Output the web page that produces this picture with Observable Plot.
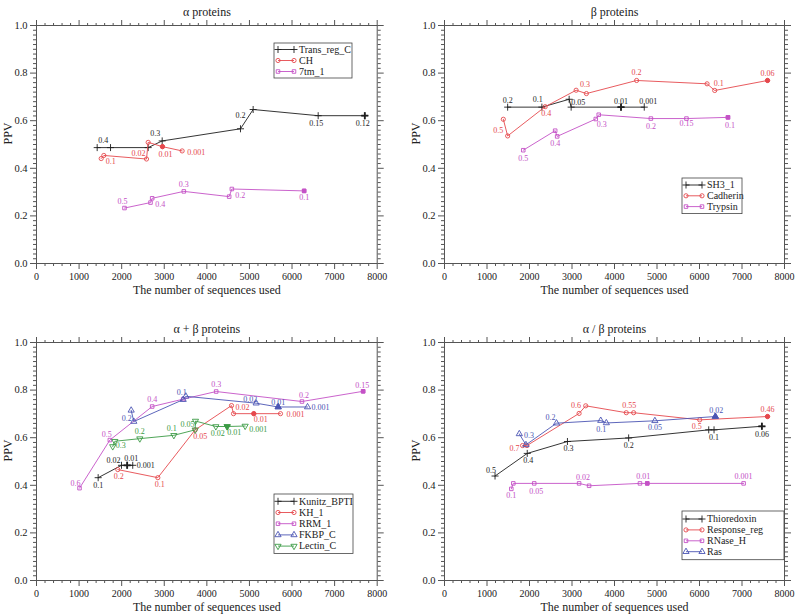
<!DOCTYPE html>
<html><head><meta charset="utf-8">
<script src="https://cdn.jsdelivr.net/npm/d3@7"></script>
<script src="https://cdn.jsdelivr.net/npm/@observablehq/plot@0.6"></script>
<style>
body{margin:0;background:#fff}
#wrap{position:relative;width:795px;height:615px;overflow:hidden;background:#fff}
.p{position:absolute}
#wrap svg, #wrap svg text{font-family:"Liberation Serif","DejaVu Serif","Times New Roman",serif !important}
</style>
</head><body><div id="wrap"></div>
<script>
// ---------------- DATA ----------------
const xTicks = [0, 1000, 2000, 3000, 4000, 5000, 6000, 7000, 8000];
const yTicks = [0, 0.2, 0.4, 0.6, 0.8, 1.0];
const panelTitles = ["α proteins", "β proteins", "α + β proteins", "α / β proteins"];
const xTitle = "The number of sequences used";
const yTitle = "PPV";

// α proteins
const transRegC_n   = [1425, 1738, 2622, 2951, 4790, 5087, 6614, 7709];
const transRegC_ppv = [0.487, 0.487, 0.487, 0.515, 0.566, 0.647, 0.621, 0.621];
const transRegC_thr = ["0.4", "", "", "0.3", "0.2", "", "0.15", "0.12"];
const ch_n   = [1519, 1581, 2583, 2622, 2958, 3420];
const ch_ppv = [0.441, 0.454, 0.439, 0.509, 0.491, 0.473];
const ch_thr = ["", "0.1", "0.02", "", "0.01", "0.001"];
const tm7_n   = [2066, 2677, 2716, 3459, 4524, 4587, 6285];
const tm7_ppv = [0.233, 0.256, 0.274, 0.303, 0.281, 0.313, 0.305];
const tm7_thr = ["0.5", "", "0.4", "0.3", "0.2", "", "0.1"];

// β proteins
const sh3_n   = [1486, 2291, 2933, 2980, 4153, 4700];
const sh3_ppv = [0.657, 0.657, 0.690, 0.657, 0.657, 0.657];
const sh3_thr = ["0.2", "0.1", "", "0.05", "0.01", "0.001"];
const cadherin_n   = [1384, 1486, 2370, 3097, 3339, 4520, 6178, 6358, 7601];
const cadherin_ppv = [0.606, 0.536, 0.659, 0.728, 0.714, 0.769, 0.755, 0.727, 0.769];
const cadherin_thr = ["0.5", "", "0.4", "0.3", "", "0.2", "", "0.1", "0.06"];
const trypsin_n   = [1853, 2604, 2651, 3559, 3629, 4856, 5693, 6670];
const trypsin_ppv = [0.476, 0.558, 0.534, 0.607, 0.625, 0.609, 0.609, 0.614];
const trypsin_thr = ["0.5", "", "0.4", "", "0.3", "0.2", "0.15", "0.1"];

// α + β proteins
const kunitz_n   = [1448, 1996, 2129, 2260];
const kunitz_ppv = [0.432, 0.484, 0.484, 0.484];
const kunitz_thr = ["0.1", "0.02", "0.01", "0.001"];
const kh1_n   = [1909, 2849, 3726, 4579, 4626, 5103, 5729];
const kh1_ppv = [0.466, 0.432, 0.633, 0.735, 0.701, 0.701, 0.701];
const kh1_thr = ["0.2", "0.1", "0.05", "0.02", "", "0.01", "0.001"];
const rrm1_n   = [1010, 1722, 2716, 3444, 4219, 6233, 7670];
const rrm1_ppv = [0.388, 0.590, 0.731, 0.762, 0.794, 0.752, 0.795];
const rrm1_thr = ["0.6", "0.5", "0.4", "", "0.3", "0.2", "0.15"];
const fkbp_n   = [2223, 2285, 3444, 3506, 5158, 5675, 6364];
const fkbp_ppv = [0.715, 0.668, 0.760, 0.774, 0.745, 0.729, 0.729];
const fkbp_thr = ["", "0.2", "", "0.1", "0.02", "0.01", "0.001"];
const lectin_n   = [1790, 1840, 2426, 3225, 3726, 3733, 4211, 4477, 4899];
const lectin_ppv = [0.563, 0.585, 0.596, 0.610, 0.633, 0.670, 0.647, 0.647, 0.649];
const lectin_thr = ["0.3", "", "0.2", "0.1", "", "0.05", "0.02", "0.01", "0.001"];

// α / β proteins
const thio_n   = [1189, 1947, 2893, 4333, 6217, 6342, 7468];
const thio_ppv = [0.439, 0.534, 0.584, 0.599, 0.633, 0.633, 0.648];
const thio_thr = ["0.5", "0.4", "0.3", "0.2", "", "0.1", "0.06"];
const resp_n   = [1837, 1940, 3167, 3323, 4277, 4450, 6006, 7601];
const resp_ppv = [0.567, 0.567, 0.702, 0.734, 0.705, 0.705, 0.675, 0.689];
const resp_thr = ["0.7", "", "0.6", "", "0.55", "", "0.5", "0.46"];
const rnase_n   = [1572, 1619, 2111, 3167, 3402, 4599, 4771, 7038];
const rnase_ppv = [0.385, 0.408, 0.408, 0.408, 0.398, 0.408, 0.408, 0.408];
const rnase_thr = ["0.1", "", "0.05", "0.02", "", "", "0.01", "0.001"];
const ras_n   = [1760, 1916, 2635, 3676, 3808, 4950, 6373];
const ras_ppv = [0.616, 0.570, 0.661, 0.672, 0.662, 0.671, 0.689];
const ras_thr = ["", "0.3", "0.2", "", "0.1", "0.05", "0.02"];

// chosen (filled) threshold of each family
const chosenAlpha = ["0.12", "0.01", "0.1"];
const chosenBeta = ["0.01", "0.06", "0.1"];
const chosenAB = ["0.01", "0.01", "0.15", "0.01", "0.01"];
const chosenAoB = ["0.06", "0.46", "0.01", "0.02"];

// ---------------- STYLE ----------------
const FONT = "'Liberation Serif','DejaVu Serif','Times New Roman',serif";
const AXIS = "#555", TXT = "#222";
const BLACK = "#1e1e1e", RED = "#e5484d", MAG = "#c451c6", BLUE = "#4b55b3", GREEN = "#3b9b45";
const triDown = {draw(ctx, size) {
  const y = Math.sqrt(size / (Math.sqrt(3) * 3)), s3 = Math.sqrt(3);
  ctx.moveTo(0, 2 * y); ctx.lineTo(-s3 * y, -y); ctx.lineTo(s3 * y, -y); ctx.closePath();
}};
const SYM = {plus: d3.symbolPlus, circle: d3.symbolCircle, square: d3.symbolSquare, tri: d3.symbolTriangle, triDown};
const RAD = {plus: 2.4, circle: 2.1, square: 2.0, tri: 2.3, triDown: 2.3};

// label offsets (pixels) per point
const place = {
  transRegC: [[6,-7],null,null,[-7,-7],[0,-13],null,[-2,8],[-2,8]],
  ch: [null,[7,6],[-8,-6],null,[3,8],[14,2]],
  tm7: [[-2,-7],null,[8,6],[0,-7],[11,-1],null,[0,7]],
  sh3: [[0,-7],[-4,-8],null,[7,-5],[0,-6],[4,-6]],
  cadherin: [[-5,11],null,[1,7],[9,-6],null,[0,-8],null,[4,-7],[0,-7]],
  trypsin: [[0,8],null,[-2,7],null,[3,10],[0,8],[0,5],[2,8]],
  kunitz: [[0,8],[-8,-5],[4,-7],[13,0]],
  kh1: [[1,7],[2,7],[5,7],[11,2],null,[7,6],[15,1]],
  rrm1: [[-4,-5],[-3,-6],[0,-7],null,[0,-7],[2,-6],[-1,-6]],
  fkbp: [null,[-7,-3],null,[-4,-4],[-6,-4],[0,-5],[13,0]],
  lectin: [[8,-1],null,[0,-7],[-2,-7],null,[-8,3],[2,7],[7,6],[13,3]],
  thio: [[-4,-6],[1,7],[1,7],[0,7],null,[0,8],[0,8]],
  resp: [[-8,3],null,[-3,-8],null,[3,-7],null,[-3,7],[0,-7]],
  rnase: [[0,7],null,[2,8],[4,-6],null,null,[-4,-7],[0,-7]],
  ras: [null,[3,-9],[-6,-6],null,[-5,6],[0,7],[1,-6]]
};

const panels = [
  {title: panelTitles[0], left: 0, top: 0, width: 400, ml: 36, mr: 23.3,
   legend: {x: 274, y: 43, w: 78, pad: 6.5, step: 11},
   series: [
     {name: "Trans_reg_C", n: transRegC_n, p: transRegC_ppv, t: transRegC_thr, chosen: chosenAlpha[0], color: BLACK, sym: "plus", pl: place.transRegC},
     {name: "CH", n: ch_n, p: ch_ppv, t: ch_thr, chosen: chosenAlpha[1], color: RED, sym: "circle", pl: place.ch},
     {name: "7tm_1", n: tm7_n, p: tm7_ppv, t: tm7_thr, chosen: chosenAlpha[2], color: MAG, sym: "square", pl: place.tm7}
   ]},
  {title: panelTitles[1], left: 400, top: 0, width: 395, ml: 44, mr: 11,
   legend: {x: 282, y: 178, w: 60, pad: 7, step: 10.8},
   series: [
     {name: "SH3_1", n: sh3_n, p: sh3_ppv, t: sh3_thr, chosen: chosenBeta[0], color: BLACK, sym: "plus", pl: place.sh3},
     {name: "Cadherin", n: cadherin_n, p: cadherin_ppv, t: cadherin_thr, chosen: chosenBeta[1], color: RED, sym: "circle", pl: place.cadherin},
     {name: "Trypsin", n: trypsin_n, p: trypsin_ppv, t: trypsin_thr, chosen: chosenBeta[2], color: MAG, sym: "square", pl: place.trypsin}
   ]},
  {title: panelTitles[2], left: 0, top: 317, width: 400, ml: 36, mr: 23.3,
   legend: {x: 274, y: 177, w: 79, pad: 7.3, step: 11.2},
   series: [
     {name: "Kunitz_BPTI", n: kunitz_n, p: kunitz_ppv, t: kunitz_thr, chosen: chosenAB[0], color: BLACK, sym: "plus", pl: place.kunitz},
     {name: "KH_1", n: kh1_n, p: kh1_ppv, t: kh1_thr, chosen: chosenAB[1], color: RED, sym: "circle", pl: place.kh1},
     {name: "RRM_1", n: rrm1_n, p: rrm1_ppv, t: rrm1_thr, chosen: chosenAB[2], color: MAG, sym: "square", pl: place.rrm1},
     {name: "FKBP_C", n: fkbp_n, p: fkbp_ppv, t: fkbp_thr, chosen: chosenAB[3], color: BLUE, sym: "tri", pl: place.fkbp},
     {name: "Lectin_C", n: lectin_n, p: lectin_ppv, t: lectin_thr, chosen: chosenAB[4], color: GREEN, sym: "triDown", pl: place.lectin}
   ]},
  {title: panelTitles[3], left: 400, top: 317, width: 395, ml: 44, mr: 11,
   legend: {x: 282, y: 194, w: 102, pad: 8, step: 10.9},
   series: [
     {name: "Thioredoxin", n: thio_n, p: thio_ppv, t: thio_thr, chosen: chosenAoB[0], color: BLACK, sym: "plus", pl: place.thio},
     {name: "Response_reg", n: resp_n, p: resp_ppv, t: resp_thr, chosen: chosenAoB[1], color: RED, sym: "circle", pl: place.resp},
     {name: "RNase_H", n: rnase_n, p: rnase_ppv, t: rnase_thr, chosen: chosenAoB[2], color: MAG, sym: "square", pl: place.rnase},
     {name: "Ras", n: ras_n, p: ras_ppv, t: ras_thr, chosen: chosenAoB[3], color: BLUE, sym: "tri", pl: place.ras}
   ]}
];

const xMinor = d3.range(200, 8000, 200).filter(v => v % 1000 !== 0);
const yMinor = d3.range(1, 50).filter(i => i % 10 !== 0).map(i => i / 50);
const blank = () => "";

function makePanel(cfg) {
  const marks = [
    Plot.frame({stroke: AXIS, strokeWidth: 1}),
    Plot.axisX({anchor: "bottom", ticks: xTicks, tickSize: 6, tickPadding: 3, tickFormat: d => String(d), label: null, stroke: AXIS, fill: TXT, fontSize: 10}),
    Plot.axisX({anchor: "bottom", ticks: xMinor, tickSize: 3, tickFormat: blank, label: null, stroke: AXIS}),
    Plot.axisX({anchor: "top", ticks: xTicks, tickSize: 6, tickFormat: blank, label: null, stroke: AXIS}),
    Plot.axisX({anchor: "top", ticks: xMinor, tickSize: 3, tickFormat: blank, label: null, stroke: AXIS}),
    Plot.axisY({anchor: "left", ticks: yTicks, tickSize: 6, tickPadding: 3, tickFormat: d3.format(".1f"), label: null, stroke: AXIS, fill: TXT, fontSize: 10.5}),
    Plot.axisY({anchor: "left", ticks: yMinor, tickSize: 3, tickFormat: blank, label: null, stroke: AXIS}),
    Plot.axisY({anchor: "right", ticks: yTicks, tickSize: 6, tickFormat: blank, label: null, stroke: AXIS}),
    Plot.axisY({anchor: "right", ticks: yMinor, tickSize: 3, tickFormat: blank, label: null, stroke: AXIS}),
    Plot.text([cfg.title], {text: d => d, frameAnchor: "top", dy: -18, fontSize: 12, fill: TXT}),
    Plot.text([xTitle], {text: d => d, frameAnchor: "bottom", dy: 30, fontSize: 12, fill: TXT}),
    Plot.text([yTitle], {text: d => d, frameAnchor: "left", dx: -28, rotate: -90, fontSize: 12, fill: TXT})
  ];
  for (const s of cfg.series) {
    const data = s.n.map((n, i) => ({n, p: s.p[i], t: s.t[i], i}));
    const sym = SYM[s.sym], r = RAD[s.sym];
    marks.push(Plot.line(data, {x: "n", y: "p", stroke: s.color, strokeWidth: 0.9}));
    marks.push(Plot.dot(data, {x: "n", y: "p", symbol: sym, r, stroke: s.color, fill: "none", strokeWidth: 0.9}));
    marks.push(Plot.dot(data.filter(d => d.t === s.chosen), {x: "n", y: "p", symbol: sym, r, stroke: s.color, fill: s.color, strokeWidth: s.sym === "plus" ? 1.8 : 0.9}));
    for (const d of data) {
      if (!d.t) continue;
      const o = s.pl[d.i] || [0, -7];
      marks.push(Plot.text([d], {x: "n", y: "p", text: "t", dx: o[0], dy: o[1], fill: s.color, fontSize: 8}));
    }
  }
  const svg = Plot.plot({
    width: cfg.width, height: 298,
    marginLeft: cfg.ml, marginRight: cfg.mr, marginTop: 25, marginBottom: 35,
    style: {fontFamily: FONT, fontSize: "10px", background: "transparent", overflow: "visible"},
    x: {domain: [0, 8000]},
    y: {domain: [0, 1]},
    marks
  });
  svg.setAttribute("font-family", FONT);
  // legend
  const L = cfg.legend, n = cfg.series.length;
  const g = d3.select(svg).append("g").attr("font-family", FONT).attr("text-anchor", "start");
  g.append("rect").attr("x", L.x).attr("y", L.y).attr("width", L.w)
    .attr("height", L.pad * 2 + (n - 1) * L.step).attr("fill", "white").attr("stroke", "#444").attr("stroke-width", 0.8);
  cfg.series.forEach((s, k) => {
    const y = L.y + L.pad + k * L.step;
    const x1 = L.x + 4, x2 = L.x + 20;
    g.append("line").attr("x1", x1).attr("x2", x2).attr("y1", y).attr("y2", y).attr("stroke", s.color).attr("stroke-width", 0.9);
    const path = d3.symbol().type(SYM[s.sym]).size(Math.PI * RAD[s.sym] ** 2)();
    for (const x of [x1, x2]) {
      g.append("path").attr("d", path).attr("transform", `translate(${x},${y})`)
        .attr("fill", "none").attr("stroke", s.color).attr("stroke-width", 0.9);
    }
    g.append("text").attr("x", L.x + 25).attr("y", y).attr("dy", "0.33em")
      .attr("text-anchor", "start").attr("font-size", 10).attr("fill", TXT).text(s.name);
  });
  return svg;
}

const wrap = document.getElementById("wrap");
for (const cfg of panels) {
  const div = document.createElement("div");
  div.className = "p";
  div.style.left = cfg.left + "px";
  div.style.top = cfg.top + "px";
  div.appendChild(makePanel(cfg));
  wrap.appendChild(div);
}
</script>
</body></html>
